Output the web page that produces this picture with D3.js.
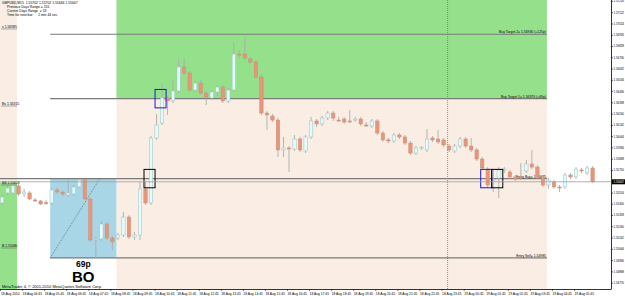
<!DOCTYPE html>
<html>
<head>
<meta charset="utf-8">
<script src="https://cdn.jsdelivr.net/npm/d3@7"></script>
<style>
  body { margin: 0; background: #fff; }
  svg { display: block; font-family: "Liberation Sans", Arial, sans-serif; }
</style>
</head>
<body>
<div id="chart"></div>
<script>
/* CONSTANTS */
const width = 625, height = 296,
  plotRight = 611, plotBottom = 289;

/* DATA: GBPUSD M15, bar 0 = 18 Aug 03:45 */
const opens = [1.55463,1.55550,1.55550,1.55611,1.55541,1.55550,1.55489,1.55480,1.55466,1.55463,
  1.55576,1.55558,1.55532,1.55541,1.55602,1.55663,1.55498,1.55145,1.55150,1.55280,
  1.55158,1.55158,1.55184,1.55341,1.55167,1.55184,1.55585,1.55463,1.56028,1.56158,
  1.56376,1.56350,1.56437,1.56645,1.56593,1.56445,1.56506,1.56419,1.56376,1.56428,
  1.56471,1.56350,1.56445,1.56758,1.56758,1.56715,1.56689,1.56558,1.56245,1.56219,
  1.56184,1.55924,1.55941,1.55932,1.56019,1.55915,1.56037,1.56176,1.56150,1.56202,
  1.56245,1.56184,1.56193,1.56176,1.56184,1.56193,1.56141,1.56132,1.56176,1.56071,
  1.56011,1.56002,1.56054,1.56037,1.55984,1.55897,1.55941,1.55924,1.56028,1.56019,
  1.56011,1.55958,1.55915,1.55958,1.56019,1.55958,1.55924,1.55845,1.55758,1.55663,
  1.55680,1.55750,1.55732,1.55689,1.55689,1.55741,1.55802,1.55775,1.55689,1.55619,
  1.55645,1.55602,1.55602,1.55706,1.55689,1.55750,1.55724,1.55767];
const highs = [1.55532,1.55611,1.55628,1.55628,1.55585,1.55567,1.55506,1.55489,1.55489,1.55593,
  1.55593,1.55567,1.55663,1.55619,1.55675,1.55671,1.55506,1.55167,1.55306,1.55297,
  1.55175,1.55202,1.55384,1.55358,1.55211,1.55645,1.55654,1.56045,1.56237,1.56506,
  1.56393,1.56532,1.56706,1.56724,1.56611,1.56524,1.56532,1.56437,1.56445,1.56489,
  1.56489,1.56463,1.56854,1.56793,1.56906,1.56732,1.56706,1.56576,1.56263,1.56237,
  1.56202,1.56037,1.55958,1.56054,1.56037,1.56054,1.56211,1.56193,1.56219,1.56263,
  1.56263,1.56211,1.56211,1.56271,1.56211,1.56211,1.56167,1.56193,1.56193,1.56089,
  1.56028,1.56071,1.56071,1.56054,1.56002,1.55958,1.55958,1.56106,1.56045,1.56097,
  1.56028,1.55976,1.55976,1.56037,1.56037,1.56028,1.55941,1.55863,1.55775,1.55750,
  1.55775,1.55775,1.55750,1.55706,1.55811,1.55837,1.55924,1.55793,1.55706,1.55680,
  1.55663,1.55619,1.55724,1.55724,1.55775,1.55767,1.55784,1.55784];
const lows = [1.55445,1.55532,1.55541,1.55524,1.55515,1.55489,1.55471,1.55445,1.55445,1.55445,
  1.55541,1.55524,1.55515,1.55524,1.55593,1.55489,1.55124,1.54985,1.55132,1.55141,
  1.55054,1.55141,1.55167,1.55150,1.55141,1.55141,1.55445,1.55445,1.56011,1.56141,
  1.56228,1.56332,1.56419,1.56576,1.56428,1.56428,1.56402,1.56315,1.56358,1.56393,
  1.56332,1.56332,1.56428,1.56724,1.56706,1.56671,1.56541,1.56228,1.56097,1.56167,
  1.55863,1.55863,1.55732,1.55915,1.55906,1.55897,1.56019,1.56124,1.56132,1.56184,
  1.56176,1.56167,1.56150,1.56158,1.56167,1.56132,1.56124,1.56117,1.56054,1.55993,
  1.55984,1.55984,1.56019,1.55967,1.55880,1.55880,1.55924,1.55906,1.55993,1.55976,
  1.55950,1.55906,1.55897,1.55941,1.55941,1.55906,1.55828,1.55750,1.55593,1.55558,
  1.55506,1.55724,1.55671,1.55654,1.55663,1.55724,1.55758,1.55671,1.55602,1.55585,
  1.55585,1.55558,1.55585,1.55671,1.55671,1.55724,1.55706,1.55637];
const closes = [1.55515,1.55593,1.55611,1.55541,1.55558,1.55498,1.55485,1.55454,1.55463,1.55576,
  1.55558,1.55541,1.55550,1.55602,1.55663,1.55498,1.55141,1.55150,1.55280,1.55158,
  1.55124,1.55184,1.55341,1.55167,1.55184,1.55585,1.55463,1.56028,1.56141,1.56376,
  1.56350,1.56437,1.56645,1.56593,1.56445,1.56506,1.56419,1.56384,1.56428,1.56471,
  1.56350,1.56445,1.56758,1.56754,1.56724,1.56689,1.56558,1.56245,1.56228,1.56184,
  1.55924,1.55941,1.55937,1.56019,1.55924,1.56037,1.56176,1.56150,1.56202,1.56245,
  1.56202,1.56180,1.56167,1.56172,1.56193,1.56150,1.56137,1.56176,1.56071,1.56011,
  1.56002,1.56054,1.56037,1.55984,1.55897,1.55941,1.55945,1.56019,1.56011,1.55993,
  1.55967,1.55924,1.55958,1.56019,1.55958,1.55924,1.55845,1.55767,1.55619,1.55667,
  1.55750,1.55758,1.55689,1.55671,1.55685,1.55802,1.55775,1.55689,1.55619,1.55663,
  1.55602,1.55598,1.55706,1.55689,1.55758,1.55741,1.55767,1.55647];

// time labels, one every 4 bars
const timeLabels = ["18 Aug 2010","18 Aug 04:45","18 Aug 05:45","18 Aug 06:45","18 Aug 07:45",
  "18 Aug 08:45","18 Aug 09:45","18 Aug 10:45","18 Aug 11:45","18 Aug 12:45","18 Aug 13:45",
  "18 Aug 14:45","18 Aug 15:45","18 Aug 16:45","18 Aug 17:45","18 Aug 18:45","18 Aug 19:45",
  "18 Aug 20:45","18 Aug 21:45","18 Aug 22:45","18 Aug 23:45","19 Aug 00:45","19 Aug 01:45",
  "19 Aug 02:45","19 Aug 03:45","19 Aug 04:45","19 Aug 05:45"];

const priceTicks = [1.57220,1.57122,1.57024,1.56926,1.56828,1.56730,1.56632,1.56534,1.56436,
  1.56338,1.56240,1.56142,1.56044,1.55946,1.55848,1.55750,1.55554,1.55456,1.55358,1.55260,
  1.55162,1.55064,1.54966,1.54868,1.54770];

// breakout levels
const levelNames = ["Buy Target 2", "Buy Target 1", "Entry Buy", "Entry Sell"];
const levelPrices = [1.56930, 1.56370, 1.55675, 1.54985];
const levelPips = ["(+125p)", "(+69p)", "", ""];

// previous day levels (left strip)
const prevLevelPrices = [1.56985, 1.56315, 1.55628, 1.55080];
const prevLevelTags = ["x", "Bs", "BB", "B"];
const prevSplit = 1.55641;

// bar indices
const boxStart = 9, boxEnd = 21, zoneEnd = 99, prevZoneEnd = 3, daySep = 81;
const markerStarts = [26, 28, 87, 89];
const markerLevels = [1.55675, 1.56370, 1.55675, 1.55675];
const markerColors = ["#000", "#1a1ad0", "#1a1ad0", "#000"];

const infoLines = ["GBPUSD,M15  1.55702 1.55702 1.55646 1.55647",
  "Previous Days Range = 155", "Current Days Range  = 53", "Time for next bar:     2 min 44 sec"];

/* SCALES */
const xScale = d3.scaleLinear().domain([0, 107]).range([2, 592.6]);
const yScale = d3.scaleLinear().domain([1.54706, 1.57228]).range([290, 0]);
const edge = i => xScale(i) - 1.5;

const svg = d3.select("#chart").append("svg")
  .attr("width", width).attr("height", height);

/* BACKGROUND ZONES */
svg.append("rect").attr("x", 0).attr("y", 0).attr("width", width).attr("height", height).attr("fill", "#fff");
// previous day zone
svg.append("rect").attr("x", 0).attr("y", 0)
  .attr("width", edge(prevZoneEnd)).attr("height", yScale(prevSplit))
  .attr("fill", "#faeee4");
svg.append("rect").attr("x", 0).attr("y", yScale(prevSplit))
  .attr("width", edge(prevZoneEnd)).attr("height", plotBottom - yScale(prevSplit))
  .attr("fill", "#95e08a");
// today's zone
svg.append("rect").attr("x", edge(boxEnd)).attr("y", 0)
  .attr("width", edge(zoneEnd) - edge(boxEnd)).attr("height", yScale(levelPrices[1]))
  .attr("fill", "#95e08a");
svg.append("rect").attr("x", edge(boxEnd)).attr("y", yScale(levelPrices[1]))
  .attr("width", edge(zoneEnd) - edge(boxEnd)).attr("height", plotBottom - yScale(levelPrices[1]))
  .attr("fill", "#faeee4");
// breakout box
svg.append("rect").attr("x", edge(boxStart)).attr("y", yScale(levelPrices[2]))
  .attr("width", edge(boxEnd) - edge(boxStart))
  .attr("height", yScale(levelPrices[3]) - yScale(levelPrices[2]))
  .attr("fill", "#a9d6e6");
svg.append("line")
  .attr("x1", edge(boxStart)).attr("y1", yScale(levelPrices[3]))
  .attr("x2", edge(18)).attr("y2", yScale(levelPrices[2]))
  .attr("stroke", "#666").attr("stroke-dasharray", "1,1").attr("stroke-width", 0.8);

// day separator
svg.append("line")
  .attr("x1", edge(daySep)).attr("x2", edge(daySep))
  .attr("y1", 0).attr("y2", plotBottom)
  .attr("stroke", "#777").attr("stroke-dasharray", "1,1").attr("stroke-width", 0.8);

/* LEVEL LINES */
levelPrices.forEach((p, i) => {
  svg.append("line")
    .attr("x1", i === 2 ? 0 : edge(boxStart)).attr("x2", edge(zoneEnd))
    .attr("y1", yScale(p)).attr("y2", yScale(p))
    .attr("stroke", "#7a7a7a").attr("stroke-width", 1.2);
  svg.append("text")
    .attr("x", edge(zoneEnd) - 1).attr("y", yScale(p) - 1)
    .attr("text-anchor", "end").attr("font-size", 3.4).attr("fill", "#000")
    .text(`${levelNames[i]}= ${d3.format(".5f")(p)} ${levelPips[i]}`.trim());
});

prevLevelPrices.forEach((p, i) => {
  svg.append("text")
    .attr("x", 2).attr("y", yScale(p))
    .attr("font-size", 3.4).attr("fill", "#000")
    .text(`${prevLevelTags[i]} ${d3.format(".5f")(p)}`);
  svg.append("line")
    .attr("x1", 1).attr("x2", 17).attr("y1", yScale(p) + 1).attr("y2", yScale(p) + 1)
    .attr("stroke", "#555").attr("stroke-width", 0.5);
});

/* CANDLES */
const candles = opens.map((o, i) => ({ i, o, h: highs[i], l: lows[i], c: closes[i] }));

svg.append("g").selectAll("line")
  .data(candles).join("line")
  .attr("x1", d => xScale(d.i)).attr("x2", d => xScale(d.i))
  .attr("y1", d => yScale(d.h)).attr("y2", d => yScale(d.l))
  .attr("stroke", "#a8aeae").attr("stroke-width", 0.9);

svg.append("g").selectAll("rect")
  .data(candles).join("rect")
  .attr("x", d => xScale(d.i) - 1.7).attr("width", 3.4)
  .attr("y", d => yScale(Math.max(d.o, d.c)))
  .attr("height", d => Math.max(1, Math.abs(yScale(d.o) - yScale(d.c))))
  .attr("fill", d => d.c >= d.o ? "#e2fbfb" : "#e9957a")
  .attr("stroke", d => d.c >= d.o ? "#9fc0c0" : "#d08a72")
  .attr("stroke-width", 0.5);

/* MARKERS */
markerStarts.forEach((s, i) => {
  svg.append("rect")
    .attr("x", edge(s)).attr("width", edge(s + 2) - edge(s))
    .attr("y", yScale(markerLevels[i] + 0.0008))
    .attr("height", yScale(markerLevels[i] - 0.0008) - yScale(markerLevels[i] + 0.0008))
    .attr("fill", "none").attr("stroke", markerColors[i]).attr("stroke-width", 1);
});

/* BID LINE */
const lastClose = closes[closes.length - 1];
svg.append("line")
  .attr("x1", 0).attr("x2", plotRight)
  .attr("y1", yScale(lastClose)).attr("y2", yScale(lastClose))
  .attr("stroke", "#9a9a9a").attr("stroke-width", 0.8);

/* BOX TEXTS */
const boxMid = (edge(boxStart) + edge(boxEnd)) / 2;
svg.append("text").attr("x", boxMid).attr("y", 267)
  .attr("text-anchor", "middle").attr("font-size", 8.5).attr("font-weight", "bold")
  .text(`${Math.round((levelPrices[2] - levelPrices[3]) * 10000)}p`);
svg.append("text").attr("x", boxMid).attr("y", 282)
  .attr("text-anchor", "middle").attr("font-size", 15).attr("font-weight", "bold")
  .text("BO");

/* INFO TEXT */
infoLines.forEach((t, i) => {
  svg.append("text").attr("x", i === 0 ? 2 : 7).attr("y", 4 + i * 4)
    .attr("font-size", 3.4).attr("xml:space", "preserve").text(t);
});
svg.append("text").attr("x", 2).attr("y", 288)
  .attr("font-size", 4).text("MetaTrader 4, © 2001-2010 MetaQuotes Software Corp.");

/* AXES */
svg.append("line").attr("x1", 0).attr("x2", plotRight)
  .attr("y1", plotBottom + 0.5).attr("y2", plotBottom + 0.5)
  .attr("stroke", "#000").attr("stroke-width", 0.8);
svg.append("line").attr("x1", plotRight + 0.5).attr("x2", plotRight + 0.5)
  .attr("y1", 0).attr("y2", plotBottom + 0.5)
  .attr("stroke", "#000").attr("stroke-width", 0.8);

const yAxis = d3.axisRight(yScale).tickValues(priceTicks)
  .tickFormat(d3.format(".5f")).tickSize(1.5).tickPadding(0.5);
const yg = svg.append("g").attr("transform", `translate(${plotRight + 0.5},0)`).call(yAxis);
yg.select(".domain").remove();
yg.selectAll("text").attr("font-size", 2.9).attr("font-family", "Liberation Sans, Arial");
yg.selectAll("line").attr("stroke-width", 0.6);

// current price box
svg.append("rect").attr("x", plotRight + 1).attr("y", yScale(lastClose) - 2.5)
  .attr("width", 13).attr("height", 5).attr("fill", "#000");
svg.append("text").attr("x", plotRight + 2.5).attr("y", yScale(lastClose) + 1.1)
  .attr("font-size", 2.9).attr("fill", "#fff").text(d3.format(".5f")(lastClose));

svg.append("g").selectAll("text")
  .data(timeLabels).join("text")
  .attr("x", (d, k) => Math.max(1, edge(k * 4)))
  .attr("y", 294.5)
  .attr("font-size", 3.3)
  .text(d => d);
svg.append("g").selectAll("line")
  .data(timeLabels).join("line")
  .attr("x1", (d, k) => edge(k * 4)).attr("x2", (d, k) => edge(k * 4))
  .attr("y1", plotBottom).attr("y2", plotBottom + 2)
  .attr("stroke", "#000").attr("stroke-width", 0.5);
</script>
</body>
</html>
